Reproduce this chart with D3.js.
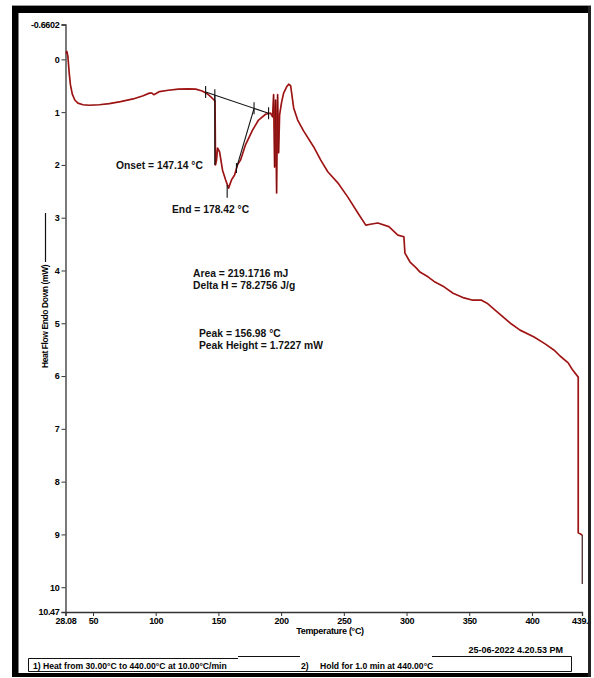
<!DOCTYPE html>
<html><head><meta charset="utf-8">
<script src="https://cdn.jsdelivr.net/npm/d3@7"></script>
<style>
html,body{margin:0;padding:0;background:#fff;}
svg{display:block;font-family:"Liberation Sans",Arial,sans-serif;}
</style></head>
<body><svg id="c" width="594" height="678"></svg>
<script>
// ---- data ----
const temperature = [28.4,29.2,30.0,31.0,32.0,33.5,35.5,38.0,42.0,47.0,55.0,63.0,72.0,82.0,90.0,95.0,97.0,98.5,100.0,103.0,110.0,118.0,126.0,132.0,137.0,141.0,144.0,146.5,147.3,147.7,148.5,149.3,150.9,153.3,155.7,158.1,160.5,162.9,165.2,167.6,171.6,177.2,182.0,187.6,191.6,193.2,194.0,194.8,195.6,196.4,197.2,198.0,198.8,200.4,202.0,204.4,206.0,207.6,210.0,213.2,218.0,226.0,231.6,237.2,245.2,253.2,261.2,267.5,272.3,277.1,285.9,293.1,297.9,298.7,302.8,307.7,310.7,317.1,322.7,329.9,337.1,345.8,352.2,359.4,364.2,370.6,383.4,390.5,401.7,410.5,417.7,422.4,428.9,432.0,436.9,436.9,440.1,440.1];
const heatFlow    = [-0.11,-0.15,-0.05,0.25,0.48,0.66,0.77,0.83,0.86,0.87,0.86,0.84,0.80,0.75,0.69,0.64,0.64,0.67,0.65,0.61,0.585,0.565,0.56,0.565,0.60,0.65,0.71,0.77,0.79,2.00,1.91,1.68,1.75,2.10,2.28,2.44,2.28,2.19,2.00,1.91,1.62,1.34,1.15,1.04,1.02,1.09,0.67,2.04,0.77,2.53,0.67,1.77,1.05,0.81,0.64,0.52,0.47,0.50,0.92,1.15,1.36,1.66,1.91,2.13,2.34,2.61,2.91,3.14,3.12,3.10,3.17,3.33,3.36,3.67,3.84,3.95,4.03,4.12,4.22,4.31,4.43,4.52,4.56,4.56,4.62,4.75,5.01,5.13,5.26,5.39,5.51,5.62,5.75,5.87,6.02,8.97,9.01,9.94];
const xTicks = [28.08,50,100,150,200,250,300,350,400,439.9];
const xTickLabels = ["28.08","50","100","150","200","250","300","350","400","439.9"];
const yTicks = [-0.6602,0,1,2,3,4,5,6,7,8,9,10,10.47];
const yTickLabels = ["-0.6602","0","1","2","3","4","5","6","7","8","9","10","10.47"];
// analysis annotations
const baselineT = [139.8,190.0];
const baselineV = [0.62,1.02];
const limitTicksT = [139.8,147.14,178.42,190.0];
const onsetT = 147.14, onsetV = 2.0;
const tangentT = [178.42,164.4];
const tangentV = [0.93,2.06];
const peakT = 156.98, peakV = [2.38,2.62];
const annotations = [
  {text:"Onset = 147.14 °C", x:116, y:169},
  {text:"End = 178.42 °C", x:172, y:213},
  {text:"Area = 219.1716 mJ", x:193, y:277},
  {text:"Delta H = 78.2756 J/g", x:193, y:289},
  {text:"Peak = 156.98 °C", x:199, y:337},
  {text:"Peak Height = 1.7227 mW", x:199, y:349}
];
const xTitle = "Temperature (°C)";
const yTitle = "Heat Flow Endo Down (mW)";
const dateText = "25-06-2022 4.20.53 PM";
const step1 = "1)  Heat from 30.00°C to 440.00°C at 10.00°C/min";
const step2 = "Hold for 1.0 min at 440.00°C";

// ---- drawing ----
const svg = d3.select("#c");
const x = d3.scaleLinear().domain([28.08,439.9]).range([65.5,582]);
const y = d3.scaleLinear().domain([-0.6602,10.47]).range([24.5,612]);

// axes
const yAxis = d3.axisLeft(y).tickValues(yTicks).tickFormat((d,i)=>yTickLabels[i]).tickSize(4).tickPadding(2);
const xAxis = d3.axisBottom(x).tickValues(xTicks).tickFormat((d,i)=>xTickLabels[i]).tickSize(4).tickPadding(2);
const gy = svg.append("g").attr("transform","translate(65.5,0)").call(yAxis);
const gx = svg.append("g").attr("transform","translate(0,612)").call(xAxis);
[gx,gy].forEach(g=>{
  g.selectAll("path.domain").attr("stroke","#333").attr("stroke-width",1.3);
  g.selectAll(".tick line").attr("stroke","#333").attr("stroke-width",1);
  g.selectAll(".tick text").attr("fill","#000").attr("font-size",9).attr("font-weight","bold")
   .attr("font-family","'Liberation Sans',Arial,sans-serif").attr("letter-spacing","-0.3");
});

// curve
const pts = temperature.map((t,i)=>[t,heatFlow[i]]);
const line = d3.line().x(d=>x(d[0])).y(d=>y(d[1]));
const main = pts.slice(0,pts.length-1);
svg.append("path").datum(main).attr("d",line)
  .attr("fill","none").attr("stroke","#b71c1c").attr("stroke-width",1.7).attr("stroke-linejoin","round");
svg.append("path").datum(main).attr("d",line)
  .attr("fill","none").attr("stroke","#3a0a0a").attr("stroke-width",0.6).attr("stroke-opacity",0.55).attr("stroke-linejoin","round");
svg.append("path").datum(pts.slice(pts.length-2)).attr("d",line)
  .attr("fill","none").attr("stroke","#3a1a1a").attr("stroke-width",1.2);

// annotation lines
const ann = svg.append("g").attr("stroke","#111").attr("stroke-width",1.1).attr("fill","none");
ann.append("line").attr("x1",x(baselineT[0])).attr("y1",y(baselineV[0])).attr("x2",x(baselineT[1])).attr("y2",y(baselineV[1]));
const baseAt = t => baselineV[0]+(baselineV[1]-baselineV[0])*(t-baselineT[0])/(baselineT[1]-baselineT[0]);
limitTicksT.forEach(t=>{
  ann.append("line").attr("x1",x(t)).attr("x2",x(t)).attr("y1",y(baseAt(t))-6).attr("y2",y(baseAt(t))+6);
});
ann.append("line").attr("x1",x(onsetT)).attr("x2",x(onsetT)).attr("y1",y(baseAt(onsetT))).attr("y2",y(onsetV));
ann.append("line").attr("x1",x(tangentT[0])).attr("y1",y(tangentV[0])).attr("x2",x(tangentT[1])).attr("y2",y(tangentV[1]));
ann.append("line").attr("x1",x(tangentT[1])).attr("x2",x(tangentT[1])).attr("y1",y(tangentV[1])-5).attr("y2",y(tangentV[1])+5);
ann.append("line").attr("x1",x(peakT)).attr("x2",x(peakT)).attr("y1",y(peakV[0])).attr("y2",y(peakV[1]));

// annotation text
svg.append("g").selectAll("text").data(annotations).join("text")
  .attr("x",d=>d.x).attr("y",d=>d.y).text(d=>d.text)
  .attr("font-size",10.3).attr("font-weight","bold").attr("fill","#111");

// axis titles
svg.append("text").attr("x",330).attr("y",634).attr("text-anchor","middle")
  .attr("font-size",9).attr("font-weight","bold").attr("letter-spacing","-0.3").text(xTitle);
svg.append("text").attr("transform","translate(48,368) rotate(-90)")
  .attr("font-size",8.5).attr("font-weight","bold").attr("letter-spacing","-0.4").text(yTitle);
svg.append("line").attr("x1",45.5).attr("x2",45.5).attr("y1",213).attr("y2",262).attr("stroke","#111").attr("stroke-width",1.2);

// date and footer
svg.append("text").attr("x",563).attr("y",653).attr("text-anchor","end")
  .attr("font-size",9).attr("font-weight","bold").text(dateText);
const ft = svg.append("g").attr("stroke","#111").attr("stroke-width",1).attr("fill","none");
ft.append("path").attr("d","M28.5,671.5 L28.5,658.5 L238,658.5 M238,656.5 L300,656.5 M432,656.5 L571.5,656.5 L571.5,671.5 L28.5,671.5");
svg.append("text").attr("x",33).attr("y",669).attr("font-size",8.6).attr("font-weight","bold").text(step1);
svg.append("text").attr("x",301).attr("y",669).attr("font-size",8.6).attr("font-weight","bold").text("2)");
svg.append("text").attr("x",320).attr("y",669).attr("font-size",8.6).attr("font-weight","bold").text(step2);

// frame
svg.append("rect").attr("x",588).attr("y",0).attr("width",6).attr("height",678).attr("fill","#fff");
svg.append("rect").attr("x",12).attr("y",6).attr("width",579).attr("height",7).attr("fill","#000");
svg.append("rect").attr("x",12).attr("y",6).attr("width",6.5).attr("height",671).attr("fill","#000");
svg.append("rect").attr("x",12).attr("y",673).attr("width",579).attr("height",4).attr("fill","#000");
svg.append("rect").attr("x",588).attr("y",6).attr("width",3).attr("height",671).attr("fill","#222");
svg.append("line").attr("x1",12).attr("x2",591).attr("y1",5.5).attr("y2",5.5).attr("stroke","#999");
</script></body></html>
